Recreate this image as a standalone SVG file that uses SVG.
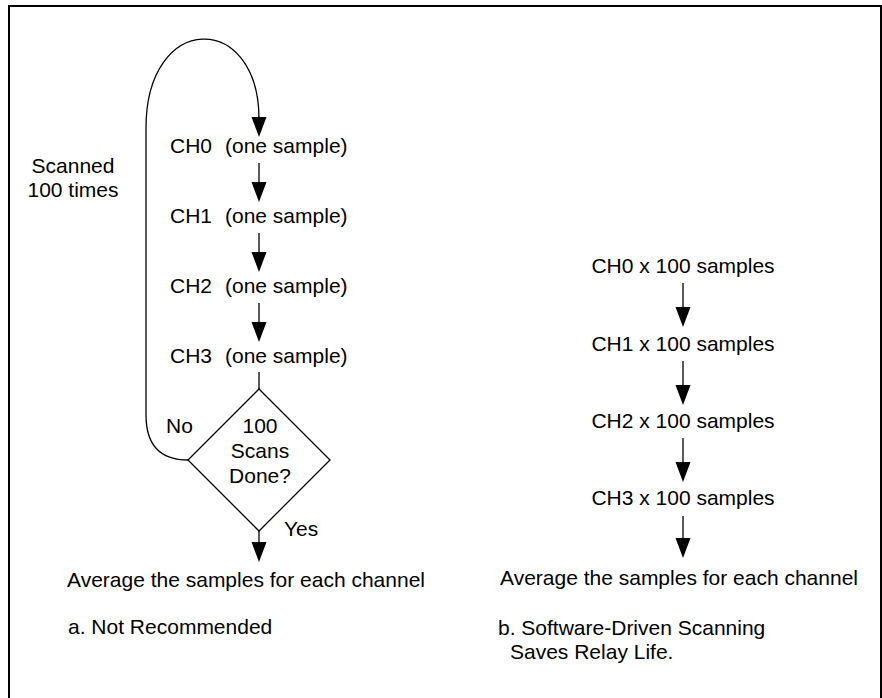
<svg xmlns="http://www.w3.org/2000/svg" width="882" height="698" viewBox="0 0 882 698">
<style>
text{font-family:"Liberation Sans",Arial,sans-serif;font-size:21px;fill:#000}
.c{text-anchor:middle}
.ln{fill:none;stroke:#000;stroke-width:1.3}
.hd{fill:#000;stroke:none}
</style>
<defs>
<polygon id="ah" points="-7.5,-20 7.5,-20 0,0"/>
</defs>
<rect width="882" height="698" fill="#fff"/>
<path d="M9,698 L9,6 L881,6 L881,698" fill="none" stroke="#000" stroke-width="2"/>

<g id="connectors">
<path class="ln" d="M146,128 C146,11 259,11 259,119"/>
<use href="#ah" class="hd" x="259" y="137"/>
<path class="ln" d="M146,128 L146,415 C146,445 160,460 188,460"/>
<line class="ln" x1="259" y1="163" x2="259" y2="185"/>
<use href="#ah" class="hd" x="259" y="202"/>
<line class="ln" x1="259" y1="233" x2="259" y2="255"/>
<use href="#ah" class="hd" x="259" y="272"/>
<line class="ln" x1="259" y1="303" x2="259" y2="325"/>
<use href="#ah" class="hd" x="259" y="342"/>
<line class="ln" x1="259" y1="372" x2="259" y2="389"/>
<line class="ln" x1="259" y1="531" x2="259" y2="545"/>
<use href="#ah" class="hd" x="259" y="562"/>

<line class="ln" x1="683" y1="283" x2="683" y2="310"/>
<use href="#ah" class="hd" x="683" y="327"/>
<line class="ln" x1="683" y1="361" x2="683" y2="388"/>
<use href="#ah" class="hd" x="683" y="405"/>
<line class="ln" x1="683" y1="438" x2="683" y2="465"/>
<use href="#ah" class="hd" x="683" y="482"/>
<line class="ln" x1="683" y1="516" x2="683" y2="541"/>
<use href="#ah" class="hd" x="683" y="558"/>
</g>

<g id="label-scanned">
<text class="c" x="73" y="173">Scanned</text>
<text class="c" x="73" y="197">100 times</text>
</g>
<g id="a-ch0"><text x="170" y="153">CH0<tspan x="225">(one sample)</tspan></text></g>
<g id="a-ch1"><text x="170" y="223">CH1<tspan x="225">(one sample)</tspan></text></g>
<g id="a-ch2"><text x="170" y="293">CH2<tspan x="225">(one sample)</tspan></text></g>
<g id="a-ch3"><text x="170" y="363">CH3<tspan x="225">(one sample)</tspan></text></g>
<g id="a-decision">
<polygon points="259,389 330,460 259,531 188,460" fill="#fff" stroke="#000" stroke-width="1.3"/>
<text class="c" x="260" y="433">100</text>
<text class="c" x="260" y="458">Scans</text>
<text class="c" x="260" y="483">Done?</text>
</g>
<g id="label-no"><text x="166" y="433">No</text></g>
<g id="label-yes"><text x="284" y="536">Yes</text></g>
<g id="a-average"><text x="67" y="587">Average the samples for each channel</text></g>
<g id="caption-a"><text x="68" y="634">a. Not Recommended</text></g>

<g id="b-ch0"><text class="c" x="683" y="273">CH0 x 100 samples</text></g>
<g id="b-ch1"><text class="c" x="683" y="351">CH1 x 100 samples</text></g>
<g id="b-ch2"><text class="c" x="683" y="428">CH2 x 100 samples</text></g>
<g id="b-ch3"><text class="c" x="683" y="505">CH3 x 100 samples</text></g>
<g id="b-average"><text x="500" y="585">Average the samples for each channel</text></g>
<g id="caption-b">
<text x="498" y="635">b. Software-Driven Scanning</text>
<text x="510" y="659">Saves Relay Life.</text>
</g>
</svg>
